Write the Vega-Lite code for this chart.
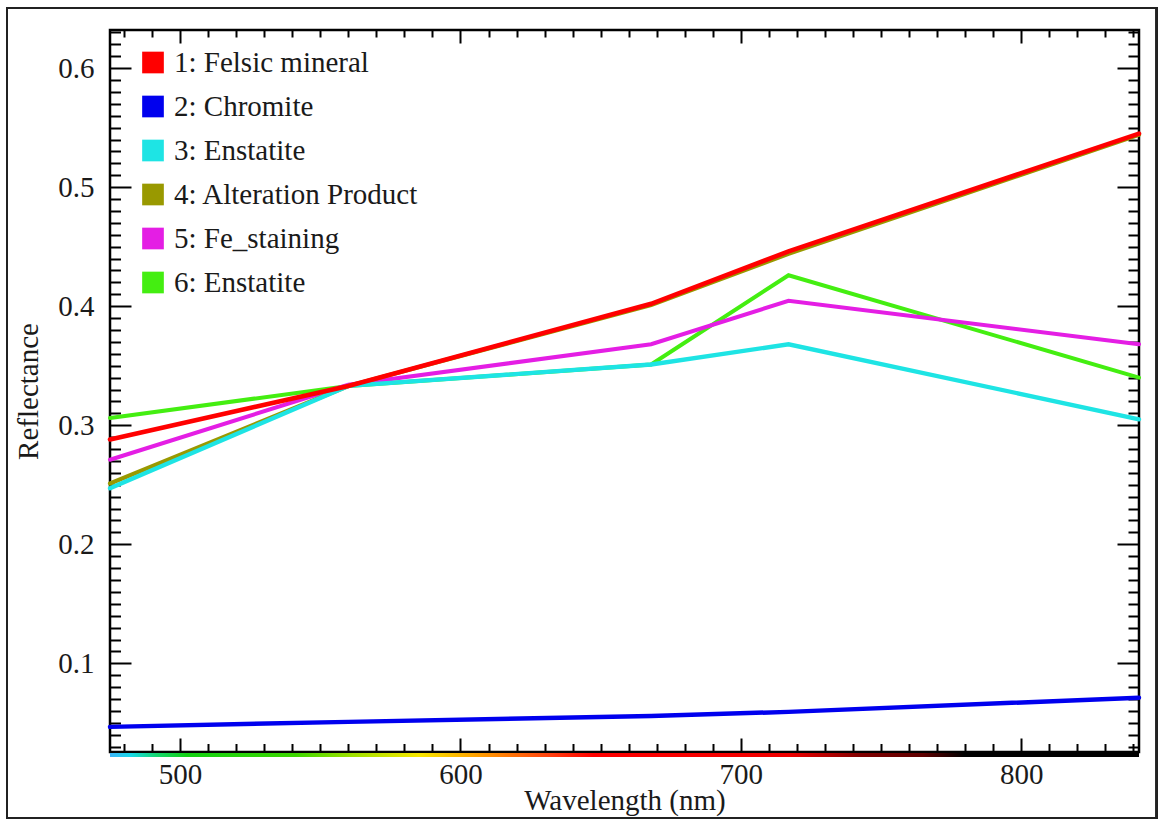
{
  "$schema": "https://vega.github.io/schema/vega-lite/v6.json",
  "width": 1029,
  "height": 722,
  "autosize": "none",
  "padding": {"left": 110, "top": 30, "right": 19, "bottom": 68},
  "background": "#ffffff",
  "data": {
    "values": [
      {"mineral": "6: Enstatite", "wavelength": 475, "reflectance": 0.306},
      {"mineral": "6: Enstatite", "wavelength": 560, "reflectance": 0.333},
      {"mineral": "6: Enstatite", "wavelength": 668, "reflectance": 0.351},
      {"mineral": "6: Enstatite", "wavelength": 717, "reflectance": 0.426},
      {"mineral": "6: Enstatite", "wavelength": 842, "reflectance": 0.340},
      {"mineral": "5: Fe_staining", "wavelength": 475, "reflectance": 0.271},
      {"mineral": "5: Fe_staining", "wavelength": 560, "reflectance": 0.334},
      {"mineral": "5: Fe_staining", "wavelength": 668, "reflectance": 0.368},
      {"mineral": "5: Fe_staining", "wavelength": 717, "reflectance": 0.4045},
      {"mineral": "5: Fe_staining", "wavelength": 842, "reflectance": 0.368},
      {"mineral": "4: Alteration Product", "wavelength": 475, "reflectance": 0.251},
      {"mineral": "4: Alteration Product", "wavelength": 560, "reflectance": 0.333},
      {"mineral": "4: Alteration Product", "wavelength": 668, "reflectance": 0.401},
      {"mineral": "4: Alteration Product", "wavelength": 717, "reflectance": 0.444},
      {"mineral": "4: Alteration Product", "wavelength": 842, "reflectance": 0.544},
      {"mineral": "3: Enstatite", "wavelength": 475, "reflectance": 0.247},
      {"mineral": "3: Enstatite", "wavelength": 560, "reflectance": 0.333},
      {"mineral": "3: Enstatite", "wavelength": 668, "reflectance": 0.351},
      {"mineral": "3: Enstatite", "wavelength": 717, "reflectance": 0.368},
      {"mineral": "3: Enstatite", "wavelength": 842, "reflectance": 0.305},
      {"mineral": "2: Chromite", "wavelength": 475, "reflectance": 0.0466},
      {"mineral": "2: Chromite", "wavelength": 560, "reflectance": 0.0508},
      {"mineral": "2: Chromite", "wavelength": 668, "reflectance": 0.0558},
      {"mineral": "2: Chromite", "wavelength": 717, "reflectance": 0.0592},
      {"mineral": "2: Chromite", "wavelength": 842, "reflectance": 0.0711},
      {"mineral": "1: Felsic mineral", "wavelength": 475, "reflectance": 0.288},
      {"mineral": "1: Felsic mineral", "wavelength": 560, "reflectance": 0.333},
      {"mineral": "1: Felsic mineral", "wavelength": 668, "reflectance": 0.402},
      {"mineral": "1: Felsic mineral", "wavelength": 717, "reflectance": 0.446},
      {"mineral": "1: Felsic mineral", "wavelength": 842, "reflectance": 0.545}
    ]
  },
  "layer": [
    {
      "mark": {"type": "rect", "fill": null, "filled": false, "stroke": "#222222", "strokeWidth": 1.5, "clip": false},
      "encoding": {
        "x": {"datum": 438.3, "type": "quantitative", "scale": {"domain": [475, 842], "nice": false, "zero": false}, "axis": null},
        "x2": {"datum": 848.3},
        "y": {"datum": 0.6505, "type": "quantitative", "scale": {"domain": [0.0255, 0.632], "nice": false, "zero": false}, "axis": null},
        "y2": {"datum": -0.0299}
      }
    },
    {
      "mark": {
        "type": "rect",
        "clip": false,
        "fill": {
          "gradient": "linear", "x1": 0, "y1": 0, "x2": 1, "y2": 0,
          "stops": [
            {"offset": 0, "color": "#3cb4f8"},
            {"offset": 0.02, "color": "#18d8e8"},
            {"offset": 0.045, "color": "#14d670"},
            {"offset": 0.075, "color": "#12d012"},
            {"offset": 0.18, "color": "#3cd600"},
            {"offset": 0.235, "color": "#9ee000"},
            {"offset": 0.3, "color": "#f8e800"},
            {"offset": 0.36, "color": "#ff9c00"},
            {"offset": 0.425, "color": "#ff4410"},
            {"offset": 0.47, "color": "#ff0000"},
            {"offset": 0.66, "color": "#f00000"},
            {"offset": 0.73, "color": "#800000"},
            {"offset": 0.79, "color": "#600000"},
            {"offset": 0.83, "color": "#000000"},
            {"offset": 1, "color": "#000000"}
          ]
        }
      },
      "encoding": {
        "x": {"datum": 475, "type": "quantitative", "axis": null},
        "x2": {"datum": 842},
        "y": {"datum": 0.0247, "type": "quantitative", "axis": null},
        "y2": {"datum": 0.0213}
      }
    },
    {
      "mark": {"type": "line", "strokeCap": "round", "strokeJoin": "miter", "clip": false},
      "encoding": {
        "x": {
          "field": "wavelength", "type": "quantitative",
          "scale": {"domain": [475, 842], "nice": false, "zero": false},
          "axis": {"orient": "bottom", "values": [500, 600, 700, 800], "ticks": false, "labelPadding": 8, "title": "Wavelength (nm)", "titleBaseline": "alphabetic", "titleY": 57.5}
        },
        "y": {
          "field": "reflectance", "type": "quantitative",
          "scale": {"domain": [0.0255, 0.632], "nice": false, "zero": false},
          "axis": {"orient": "left", "values": [0.1, 0.2, 0.3, 0.4, 0.5, 0.6], "format": ".1f", "ticks": false, "labelPadding": 16, "title": "Reflectance", "titleBaseline": "alphabetic", "titleAngle": -90, "titleX": -72.5}
        },
        "color": {
          "field": "mineral", "type": "nominal",
          "scale": {
            "domain": ["1: Felsic mineral", "2: Chromite", "3: Enstatite", "4: Alteration Product", "5: Fe_staining", "6: Enstatite"],
            "range": ["#ff0000", "#0000ee", "#1ee4e4", "#999900", "#e41ee4", "#44ee11"]
          },
          "legend": null
        },
        "strokeWidth": {
          "field": "mineral", "type": "nominal",
          "scale": {
            "domain": ["1: Felsic mineral", "2: Chromite", "3: Enstatite", "4: Alteration Product", "5: Fe_staining", "6: Enstatite"],
            "range": [4.6, 4, 4.6, 3.6, 3.6, 3.6]
          },
          "legend": null
        }
      }
    },
    {
      "mark": {"type": "square", "filled": true, "opacity": 0},
      "encoding": {
        "x": {"field": "wavelength", "type": "quantitative", "axis": {"orient": "bottom", "values": [500, 600, 700, 800], "labels": false, "tickSize": -14, "title": null}},
        "y": {"field": "reflectance", "type": "quantitative", "axis": {"orient": "left", "values": [0.1, 0.2, 0.3, 0.4, 0.5, 0.6], "labels": false, "tickSize": -21, "title": null}},
        "color": {
          "field": "mineral", "type": "nominal",
          "legend": {
            "orient": "none", "legendX": 28.5, "legendY": 18, "title": null, "padding": 0,
            "symbolType": "square", "symbolSize": 470, "symbolStrokeWidth": 0, "symbolOpacity": 1,
            "labelFont": "Liberation Serif", "labelFontSize": 29, "labelColor": "#1a1a1a", "labelOffset": 6.5,
            "labelLimit": 500, "rowPadding": 14
          }
        }
      }
    },
    {
      "mark": {"type": "point", "opacity": 0},
      "encoding": {
        "x": {"field": "wavelength", "type": "quantitative", "axis": {"orient": "bottom", "values": [480, 490, 510, 520, 530, 540, 550, 560, 570, 580, 590, 610, 620, 630, 640, 650, 660, 670, 680, 690, 710, 720, 730, 740, 750, 760, 770, 780, 790, 810, 820, 830, 840], "labels": false, "tickSize": -8.5, "title": null}},
        "y": {"field": "reflectance", "type": "quantitative", "axis": {"orient": "left", "values": [0.03, 0.04, 0.05, 0.06, 0.07, 0.08, 0.09, 0.11, 0.12, 0.13, 0.14, 0.15, 0.16, 0.17, 0.18, 0.19, 0.21, 0.22, 0.23, 0.24, 0.25, 0.26, 0.27, 0.28, 0.29, 0.31, 0.32, 0.33, 0.34, 0.35, 0.36, 0.37, 0.38, 0.39, 0.41, 0.42, 0.43, 0.44, 0.45, 0.46, 0.47, 0.48, 0.49, 0.51, 0.52, 0.53, 0.54, 0.55, 0.56, 0.57, 0.58, 0.59, 0.61, 0.62, 0.63], "labels": false, "tickSize": -10.5, "title": null}}
      }
    },
    {
      "mark": {"type": "point", "opacity": 0},
      "encoding": {
        "x": {"field": "wavelength", "type": "quantitative", "axis": {"orient": "top", "values": [500, 600, 700, 800], "labels": false, "tickSize": -13, "title": null}},
        "y": {"field": "reflectance", "type": "quantitative", "axis": {"orient": "right", "values": [0.1, 0.2, 0.3, 0.4, 0.5, 0.6], "labels": false, "tickSize": -22, "title": null}}
      }
    },
    {
      "mark": {"type": "point", "opacity": 0},
      "encoding": {
        "x": {"field": "wavelength", "type": "quantitative", "axis": {"orient": "top", "values": [480, 490, 510, 520, 530, 540, 550, 560, 570, 580, 590, 610, 620, 630, 640, 650, 660, 670, 680, 690, 710, 720, 730, 740, 750, 760, 770, 780, 790, 810, 820, 830, 840], "labels": false, "tickSize": -7, "title": null}},
        "y": {"field": "reflectance", "type": "quantitative", "axis": {"orient": "right", "values": [0.03, 0.04, 0.05, 0.06, 0.07, 0.08, 0.09, 0.11, 0.12, 0.13, 0.14, 0.15, 0.16, 0.17, 0.18, 0.19, 0.21, 0.22, 0.23, 0.24, 0.25, 0.26, 0.27, 0.28, 0.29, 0.31, 0.32, 0.33, 0.34, 0.35, 0.36, 0.37, 0.38, 0.39, 0.41, 0.42, 0.43, 0.44, 0.45, 0.46, 0.47, 0.48, 0.49, 0.51, 0.52, 0.53, 0.54, 0.55, 0.56, 0.57, 0.58, 0.59, 0.61, 0.62, 0.63], "labels": false, "tickSize": -11, "title": null}}
      }
    }
  ],
  "resolve": {
    "axis": {"x": "independent", "y": "independent"},
    "legend": {"color": "independent", "strokeWidth": "independent"}
  },
  "config": {
    "view": {"stroke": "#000000", "strokeWidth": 2.5},
    "axis": {
      "grid": false,
      "domain": false,
      "tickColor": "#000000",
      "tickWidth": 2,
      "labelFont": "Liberation Serif",
      "labelFontSize": 29,
      "labelColor": "#1a1a1a",
      "titleFont": "Liberation Serif",
      "titleFontSize": 29,
      "titleFontWeight": "normal",
      "titleColor": "#1a1a1a"
    }
  }
}
